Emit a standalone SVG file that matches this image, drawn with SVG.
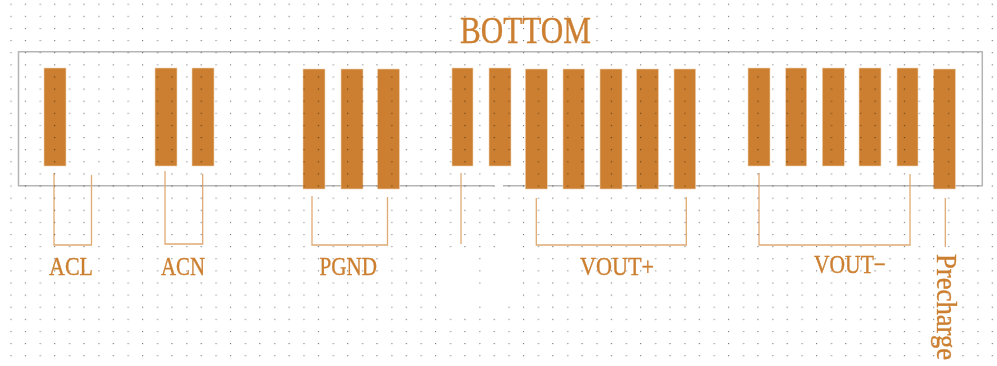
<svg xmlns="http://www.w3.org/2000/svg" width="997" height="366" viewBox="0 0 997 366">
<style>
text{font-family:"Liberation Serif","Times New Roman",serif;fill:#cc7f30;stroke:#cc7f30;stroke-width:.35}
.pad{fill:#cc7f30;stroke:#f0d5b8;stroke-width:.6}
.wire{fill:none;stroke:#e0aa74;stroke-width:1.3}
</style>
<defs>
<pattern id="dots" width="29.3" height="12.12" patternUnits="userSpaceOnUse" x="10.2" y="3.7">
<rect width="1.6" height="1.1" fill="#999"/><rect x="14.65" width="1.1" height="1.1" fill="#555"/>
</pattern>
</defs>
<rect width="997" height="366" fill="#fff"/>
<path id="outline" d="M494 185.7H18.5V51.7H982.3V185.7H503" fill="none" stroke="#b5b5b5" stroke-width="1.5"/>
<g id="connectors">
<path class="wire" d="M54 173V245H91.5V175"/>
<path class="wire" d="M165 171V244H202.7V174"/>
<path class="wire" d="M312 196V245H387.5V197"/>
<path class="wire" d="M461 173V244"/>
<path class="wire" d="M536.3 198V245H686.3V197"/>
<path class="wire" d="M759 173V245H910V174"/>
<path class="wire" d="M945.3 198V247"/>
</g>
<g id="pads">
<rect id="pad1" class="pad" x="44" y="68" width="22" height="98"/>
<rect id="pad2" class="pad" x="155" y="68" width="22" height="98"/>
<rect id="pad3" class="pad" x="192" y="68" width="22" height="98"/>
<rect id="pad4" class="pad" x="303" y="69" width="22" height="120"/>
<rect id="pad5" class="pad" x="341" y="69" width="22" height="120"/>
<rect id="pad6" class="pad" x="377.5" y="69" width="22" height="120"/>
<rect id="pad7" class="pad" x="452" y="68" width="21" height="98"/>
<rect id="pad8" class="pad" x="489" y="68" width="22" height="98"/>
<rect id="pad9" class="pad" x="525.3" y="69" width="22" height="120"/>
<rect id="pad10" class="pad" x="563" y="69" width="21.5" height="120"/>
<rect id="pad11" class="pad" x="600" y="69" width="22" height="120"/>
<rect id="pad12" class="pad" x="636.5" y="69" width="22" height="120"/>
<rect id="pad13" class="pad" x="674" y="69" width="21.7" height="120"/>
<rect id="pad14" class="pad" x="748" y="68" width="22" height="98"/>
<rect id="pad15" class="pad" x="785.7" y="68" width="21" height="98"/>
<rect id="pad16" class="pad" x="822.3" y="68" width="22" height="98"/>
<rect id="pad17" class="pad" x="859" y="68" width="22" height="98"/>
<rect id="pad18" class="pad" x="897" y="68" width="21" height="98"/>
<rect id="pad19" class="pad" x="933.5" y="69" width="22" height="120"/>
</g>
<rect id="grid" width="997" height="366" fill="url(#dots)" opacity=".85" style="mix-blend-mode:multiply"/>
<g id="gaps" fill="#fff">
<rect x="441" y="250" width="32" height="62"/>
<rect x="485" y="250" width="18" height="62"/>
<rect x="472" y="288" width="14" height="10"/>
<rect x="500" y="228" width="15" height="72"/>
</g>
<g id="labels">
<text x="460" y="43" font-size="37" textLength="131" lengthAdjust="spacingAndGlyphs">BOTTOM</text>
<text x="49" y="275" font-size="26" textLength="44" lengthAdjust="spacingAndGlyphs">ACL</text>
<text x="161" y="275" font-size="26" textLength="44" lengthAdjust="spacingAndGlyphs">ACN</text>
<text x="319.5" y="275" font-size="26" textLength="57.5" lengthAdjust="spacingAndGlyphs">PGND</text>
<text x="580" y="275" font-size="26" textLength="74" lengthAdjust="spacingAndGlyphs">VOUT+</text>
<text x="814" y="273" font-size="26" textLength="72" lengthAdjust="spacingAndGlyphs">VOUT−</text>
<text transform="translate(937 254) rotate(90) scale(.89 1)" font-size="30">Precharge</text>
</g>
</svg>
